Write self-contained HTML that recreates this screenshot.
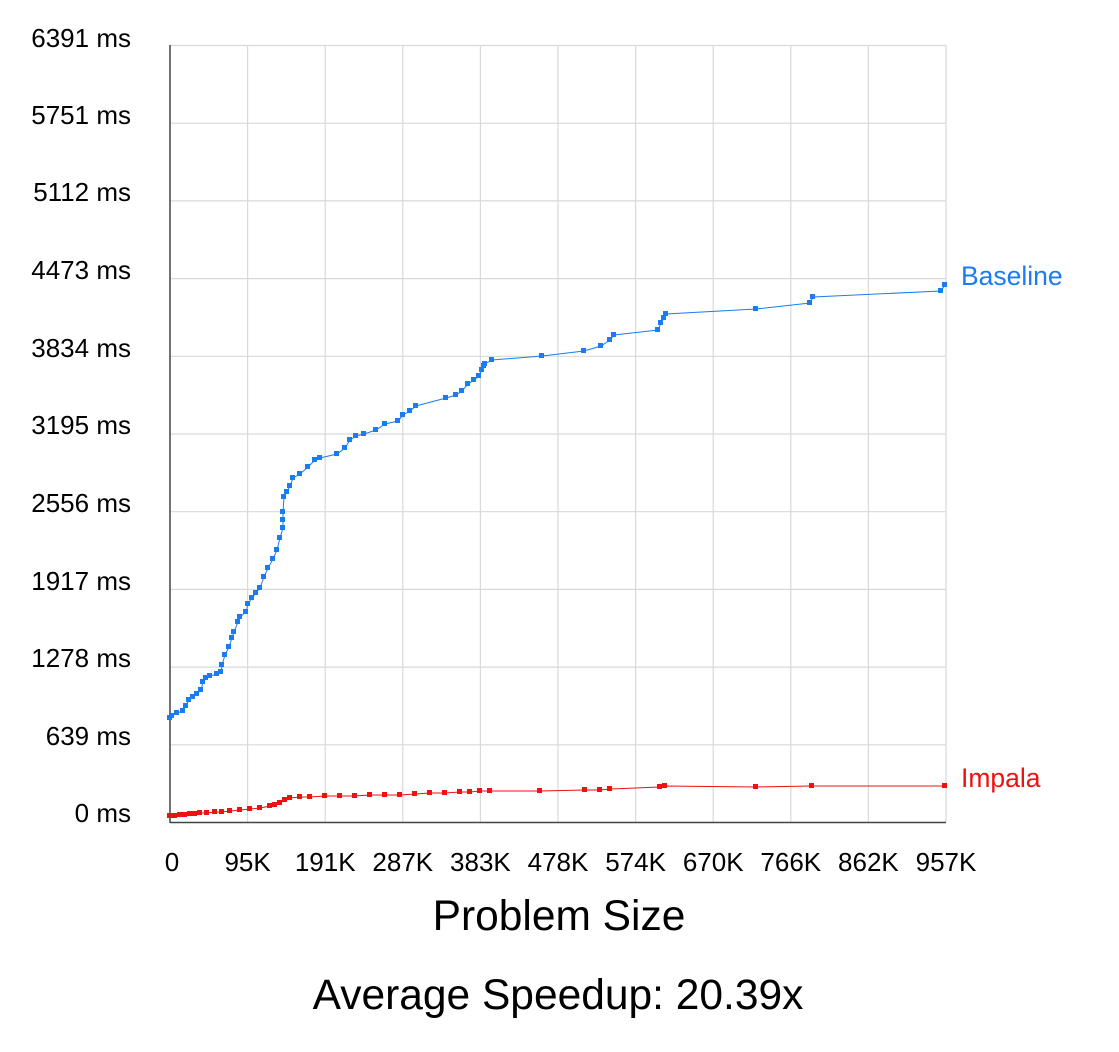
<!DOCTYPE html>
<html><head><style>body{margin:0;background:#fff}</style></head><body>
<svg width="1119" height="1047" xmlns="http://www.w3.org/2000/svg" font-family="Liberation Sans, sans-serif">
<g stroke="#d9d9d9" stroke-width="1.2">
<line x1="170" x2="946" y1="45.5" y2="45.5"/><line x1="170" x2="946" y1="123.2" y2="123.2"/><line x1="170" x2="946" y1="200.9" y2="200.9"/><line x1="170" x2="946" y1="278.6" y2="278.6"/><line x1="170" x2="946" y1="356.3" y2="356.3"/><line x1="170" x2="946" y1="434" y2="434"/><line x1="170" x2="946" y1="511.7" y2="511.7"/><line x1="170" x2="946" y1="589.4" y2="589.4"/><line x1="170" x2="946" y1="667.1" y2="667.1"/><line x1="170" x2="946" y1="744.8" y2="744.8"/>
<line y1="45" y2="822" x1="247.6" x2="247.6"/><line y1="45" y2="822" x1="325.2" x2="325.2"/><line y1="45" y2="822" x1="402.8" x2="402.8"/><line y1="45" y2="822" x1="480.4" x2="480.4"/><line y1="45" y2="822" x1="558" x2="558"/><line y1="45" y2="822" x1="635.6" x2="635.6"/><line y1="45" y2="822" x1="713.2" x2="713.2"/><line y1="45" y2="822" x1="790.8" x2="790.8"/><line y1="45" y2="822" x1="868.4" x2="868.4"/><line y1="45" y2="822" x1="946" x2="946"/>
</g>
<line x1="170" x2="170" y1="45" y2="823" stroke="#444" stroke-width="1.5"/>
<line x1="170" x2="946" y1="822.5" y2="822.5" stroke="#444" stroke-width="1.5"/>
<g font-size="26" fill="#000" text-anchor="end">
<text x="131" y="47">6391 ms</text><text x="131" y="124">5751 ms</text><text x="131" y="201">5112 ms</text><text x="131" y="279">4473 ms</text><text x="131" y="357">3834 ms</text><text x="131" y="434">3195 ms</text><text x="131" y="512">2556 ms</text><text x="131" y="590">1917 ms</text><text x="131" y="667">1278 ms</text><text x="131" y="745">639 ms</text><text x="131" y="822">0 ms</text>
</g>
<g font-size="26" fill="#000" text-anchor="middle">
<text x="172" y="871">0</text><text x="247.6" y="871">95K</text><text x="325.2" y="871">191K</text><text x="402.8" y="871">287K</text><text x="480.4" y="871">383K</text><text x="558" y="871">478K</text><text x="635.6" y="871">574K</text><text x="713.2" y="871">670K</text><text x="790.8" y="871">766K</text><text x="868.4" y="871">862K</text><text x="946" y="871">957K</text>
</g>
<text x="559" y="930" font-size="42.5" text-anchor="middle">Problem Size</text>
<text x="558" y="1009" font-size="42.5" text-anchor="middle">Average Speedup: 20.39x</text>
<text x="961" y="285" font-size="26.5" fill="#1a7cf2">Baseline</text>
<text x="961" y="787" font-size="26.5" fill="#f01010">Impala</text>
<defs>
<marker id="mb" markerUnits="userSpaceOnUse" markerWidth="6" markerHeight="6" refX="3" refY="3"><rect width="5" height="5" fill="#1a7cf2"/></marker>
<marker id="mr" markerUnits="userSpaceOnUse" markerWidth="6" markerHeight="6" refX="3" refY="3"><rect width="5" height="5" fill="#f01010"/></marker>
</defs>
<polyline fill="none" stroke="#1a7cf2" stroke-width="1" marker-mid="url(#mb)" marker-start="url(#mb)" marker-end="url(#mb)" points="170,718 172,716 177,713 183,711 186,706 189,700 193,697 197,694 201,690 203,682 206,678 210,676 217,674 221,672 222,665 225,655 229,647 232,638 234,632 238,622 240,617 246,612 248,604 252,598 256,593 260,588 264,577 268,568 273,559 277,550 280,538 283,528 283,520 283,512 284,497 287,492 290,486 293,478 300,474 308,467 315,460 320,458 337,454 345,448 350,440 356,436 364,434 376,430 385,424 398,421 403,415 410,411 416,406 446,398 456,395 462,391 468,384 474,380 479,376 482,370 484,366 485,364 492,360 542,356 584,351 601,346 610,340 614,335 658,330 661,323 664,318 666,314 756,309 810,303 813,297 941,291 945,285"/>
<polyline fill="none" stroke="#f01010" stroke-width="1" marker-mid="url(#mr)" marker-start="url(#mr)" marker-end="url(#mr)" points="170,816 175,816 180,815 185,815 190,814 195,814 200,813 207,813 215,812 222,812 230,811 240,810 250,809 260,808 270,806 275,805 280,803 285,800 290,798 300,797 310,797 325,796 340,796 355,796 370,795 385,795 400,795 415,794 430,793 445,793 460,792 470,792 480,791 490,791 540,791 585,790 600,790 610,789 660,787 665,786 756,787 812,786 945,786"/>
</svg>
</body></html>
